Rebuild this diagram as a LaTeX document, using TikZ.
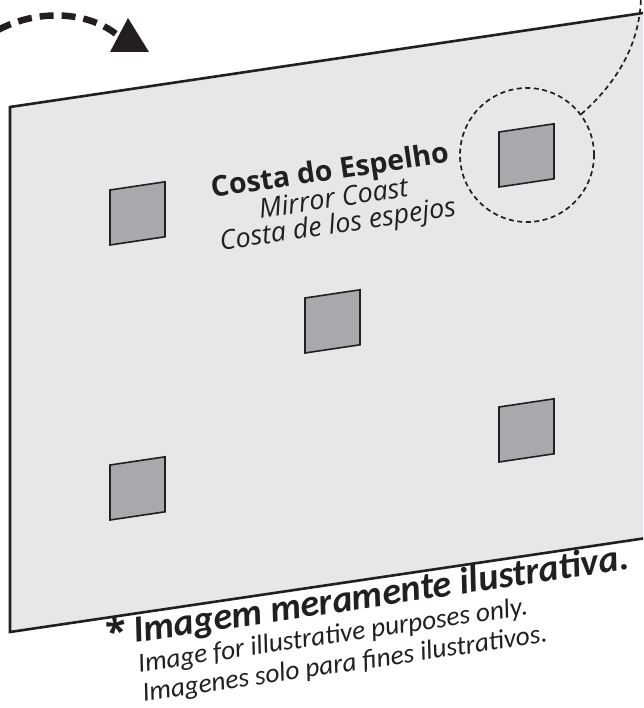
\documentclass[tikz,border=0pt]{standalone}
\usepackage{fontspec}
\setmainfont{Open Sans}
\newfontfamily\notefont{Carlito}
\definecolor{ink}{HTML}{231F20}
\definecolor{wallgray}{HTML}{E6E7E8}
\definecolor{tilegray}{HTML}{A7A9AC}

\begin{document}
\begin{tikzpicture}[
    x=1pt, y=-1pt,
    wall/.style={draw=ink, line width=2.6pt, fill=wallgray},
    tile/.style={draw=ink, line width=1.6pt, fill=tilegray},
    lens/.style={draw=ink, circle, line width=1.7pt, dash pattern=on 5pt off 3.5pt, minimum size=134pt, inner sep=0pt},
    lensline/.style={draw=ink, line width=1.7pt, dash pattern=on 5pt off 3.5pt},
    turn/.style={draw=ink, line width=6.5pt, dash pattern=on 14pt off 8pt},
    title/.style={text=ink, align=center, font=\fontsize{27}{26}\selectfont, inner sep=0pt},
    note/.style={text=ink, align=left, font=\notefont\fontsize{27.3}{30}\selectfont\itshape, inner sep=0pt}
]
\useasboundingbox (0,0) rectangle (643,708);
\clip (0,0) rectangle (643,708);

% mirror wall
\draw[wall] (10,107) -- (660,10.5) -- (660,536) -- (10,632) -- cycle;
\foreach \x/\y in {110/190, 499/132, 305/298, 110/465, 499/407}
    \draw[tile] (\x,\y) -- ++(55,-8.2) -- ++(0,55) -- ++(-55,8.2) -- cycle;

% turning arrow
\draw[turn] (-2,30) .. controls (35,10) and (85,10) .. (116,34);
\fill[ink] (128,18) -- (149,52) -- (110,52) -- cycle;

% detail circle
\node[lens] (lens) at (527,155) {};
\coordinate (detail) at (641,-6);
\draw[lensline] (lens.37) .. controls (620,80) and (641,40) .. (detail);

% labels
\node[title, rotate=8.45] (coast) at (334,199)
    {{\fontsize{28.5}{26}\selectfont\bfseries Costa do Espelho}\\\textit{Mirror Coast}\\\textit{Costa de los espejos}};
\node[note, rotate=8.45, anchor=base west] (disclaimer) at (143.7,702)
    {{\fontsize{38}{30}\selectfont\bfseries\itshape\llap{{\rmfamily\upshape *}\,}Imagem meramente ilustrativa.}\\
     Image for illustrative purposes only.\\
     Imagenes solo para fines ilustrativos.};
\end{tikzpicture}
\end{document}
